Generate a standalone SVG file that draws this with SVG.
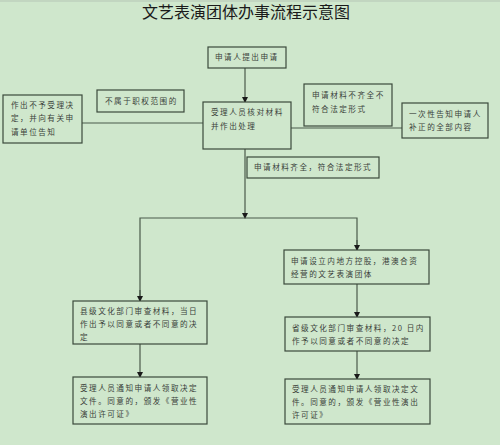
<svg xmlns="http://www.w3.org/2000/svg" width="500" height="445" viewBox="0 0 500 445">
<defs>
<style>
.bg{fill:#cfe7cc}
.box{fill:#cfe7cc;stroke:#3b4a3b;stroke-width:1.2}
.t{font-family:"Noto Sans CJK SC","Noto Sans",sans-serif;font-size:7.6px;fill:#3a3f3a;letter-spacing:1.5px}
.title{font-family:"Noto Sans CJK SC","Noto Sans",sans-serif;font-size:16px;fill:#1a1a1a;text-anchor:middle}
.ln{fill:none;stroke:#4a5a4a;stroke-width:1.2}
</style>
<marker id="ah" markerWidth="6" markerHeight="6" refX="5" refY="3" orient="auto" markerUnits="userSpaceOnUse">
<path d="M0,0 L6,3 L0,6 Z" fill="#1a1a1a"/>
</marker>
</defs>
<rect class="bg" x="0" y="0" width="500" height="445"/>
<line x1="0" y1="1" x2="500" y2="1" stroke="#b5c5b5" stroke-width="1"/>
<text class="title" x="246" y="18">文艺表演团体办事流程示意图</text>

<g id="connectors">
<line class="ln" x1="245" y1="68" x2="245" y2="102" marker-end="url(#ah)"/>
<line class="ln" x1="82" y1="123" x2="203" y2="123"/>
<line class="ln" x1="291" y1="128" x2="402" y2="128"/>
<line class="ln" x1="245" y1="149" x2="245" y2="218" marker-end="url(#ah)"/>
<polyline class="ln" points="140,300 140,218 357,218 357,250"/>
<line class="ln" x1="357" y1="240" x2="357" y2="250" marker-end="url(#ah)"/>
<line class="ln" x1="140" y1="290" x2="140" y2="301" marker-end="url(#ah)"/>
<line class="ln" x1="140" y1="344" x2="140" y2="377" marker-end="url(#ah)"/>
<line class="ln" x1="357" y1="284" x2="357" y2="317" marker-end="url(#ah)"/>
<line class="ln" x1="357" y1="351" x2="357" y2="379" marker-end="url(#ah)"/>
</g>

<g id="n-apply">
<rect class="box" x="208" y="47" width="78" height="21"/>
<text class="t" x="215" y="60">申请人提出申请</text>
</g>
<g id="n-check">
<rect class="box" x="203" y="102" width="88" height="47"/>
<text class="t" x="211" y="115">受理人员核对材料</text>
<text class="t" x="211" y="129">并作出处理</text>
</g>
<g id="n-reject">
<rect class="box" x="3" y="95" width="79" height="48"/>
<text class="t" x="11" y="108">作出不予受理决</text>
<text class="t" x="11" y="121">定，并向有关申</text>
<text class="t" x="11" y="135">请单位告知</text>
</g>
<g id="n-notscope">
<rect class="box" x="97" y="90" width="87" height="22"/>
<text class="t" x="105" y="104">不属于职权范围的</text>
</g>
<g id="n-incomplete">
<rect class="box" x="304" y="84" width="88" height="42"/>
<text class="t" x="312" y="98">申请材料不齐全不</text>
<text class="t" x="312" y="112">符合法定形式</text>
</g>
<g id="n-inform">
<rect class="box" x="402" y="103" width="86" height="35"/>
<text class="t" x="409" y="117">一次性告知申请人</text>
<text class="t" x="409" y="130">补正的全部内容</text>
</g>
<g id="n-complete">
<rect class="box" x="247" y="157" width="132" height="21"/>
<text class="t" x="254" y="170">申请材料齐全，符合法定形式</text>
</g>
<g id="n-hk">
<rect class="box" x="284" y="250" width="145" height="34"/>
<text class="t" x="291" y="264">申请设立内地方控股，港澳合资</text>
<text class="t" x="291" y="277">经营的文艺表演团体</text>
</g>
<g id="n-county">
<rect class="box" x="73" y="301" width="134" height="43"/>
<text class="t" x="80" y="314">县级文化部门审查材料，当日</text>
<text class="t" x="80" y="327">作出予以同意或者不同意的决</text>
<text class="t" x="80" y="340">定</text>
</g>
<g id="n-province">
<rect class="box" x="285" y="317" width="145" height="34"/>
<text class="t" x="292" y="331">省级文化部门审查材料，20 日内</text>
<text class="t" x="292" y="344">作予以同意或者不同意的决定</text>
</g>
<g id="n-notify-left">
<rect class="box" x="73" y="377" width="134" height="47"/>
<text class="t" x="80" y="391">受理人员通知申请人领取决定</text>
<text class="t" x="80" y="404">文件。同意的，颁发《营业性</text>
<text class="t" x="80" y="417">演出许可证》</text>
</g>
<g id="n-notify-right">
<rect class="box" x="285" y="379" width="145" height="45"/>
<text class="t" x="292" y="392">受理人员通知申请人领取决定文</text>
<text class="t" x="292" y="405">件。同意的，颁发《营业性演出</text>
<text class="t" x="292" y="418">许可证》</text>
</g>
</svg>
